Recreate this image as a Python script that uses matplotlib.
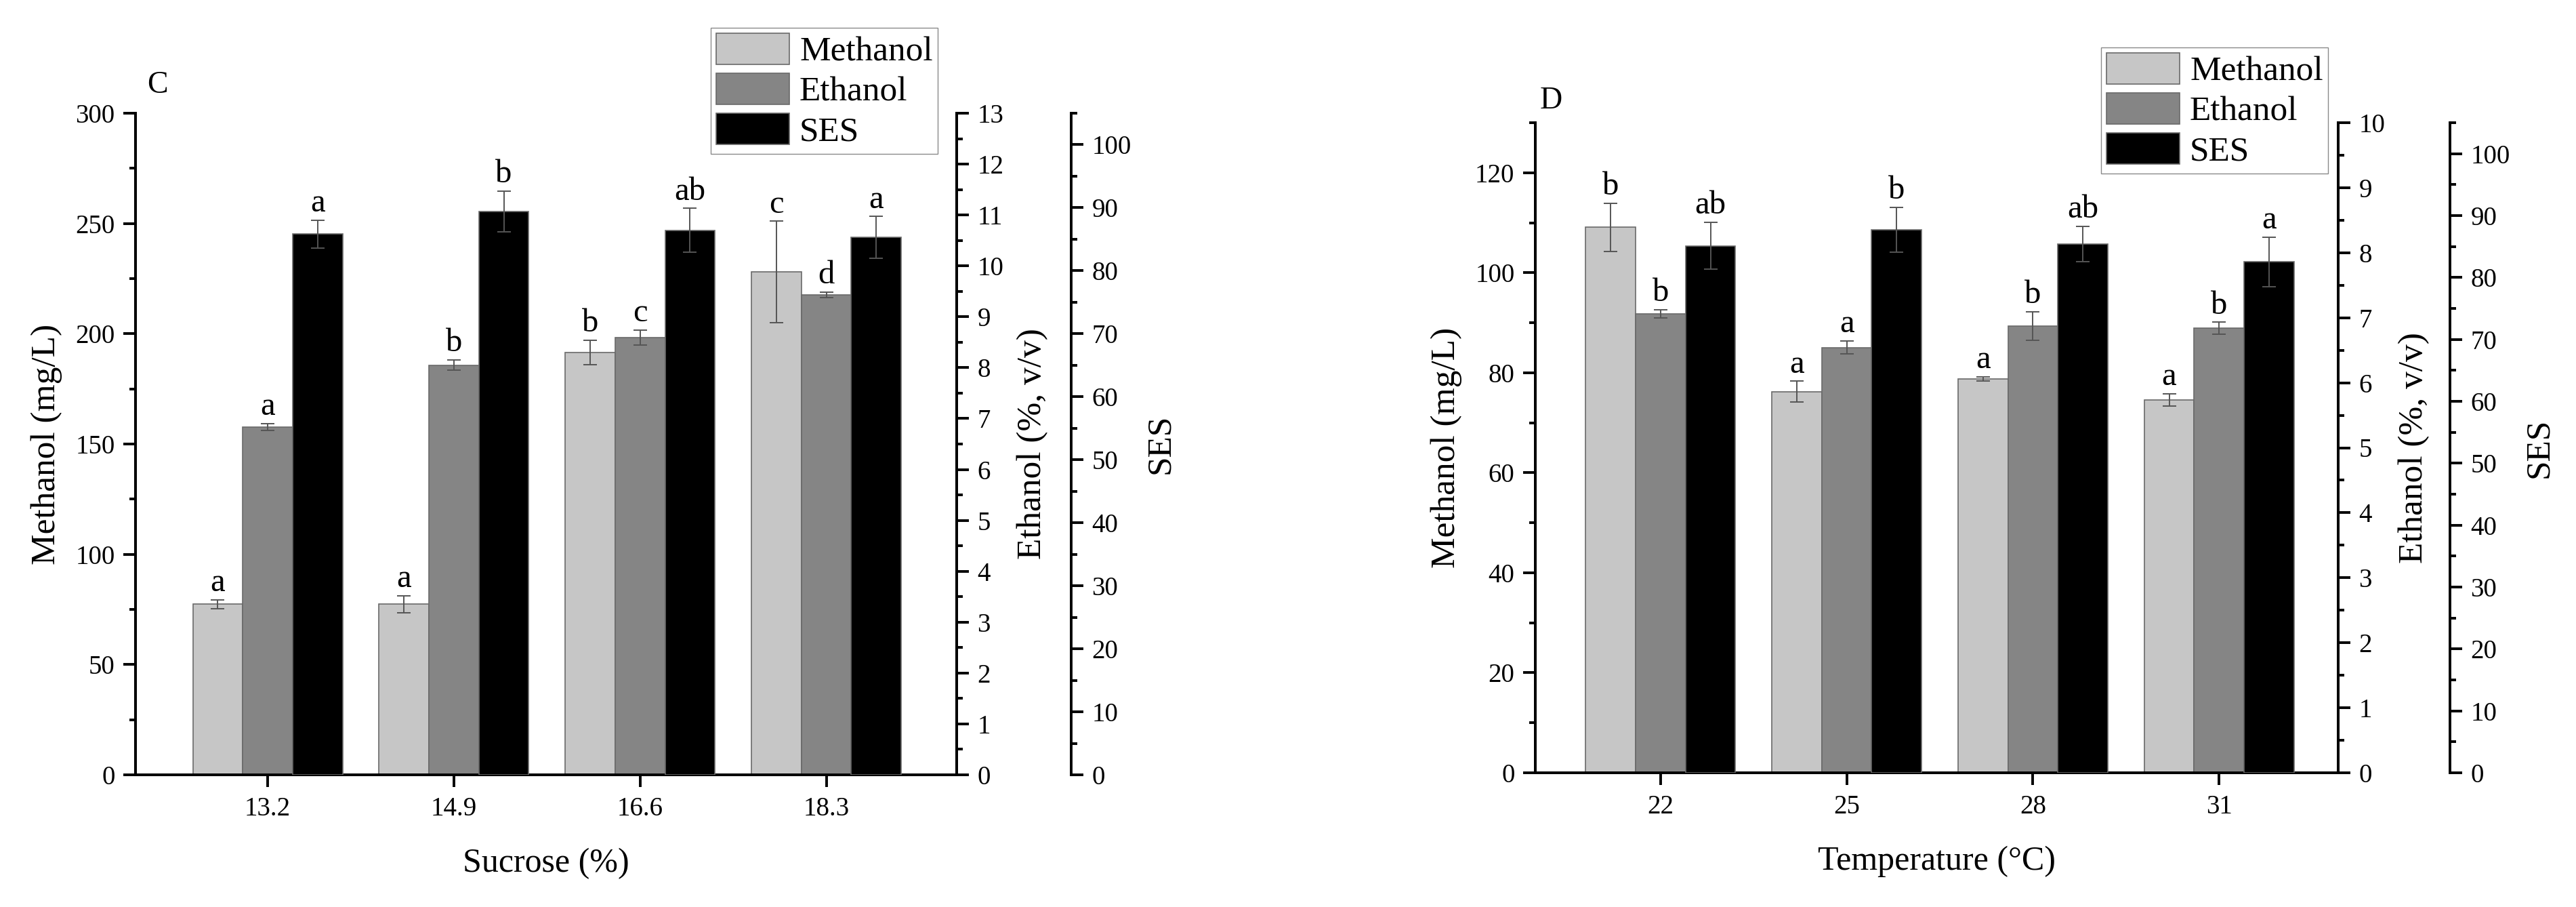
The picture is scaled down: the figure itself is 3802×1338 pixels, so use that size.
import matplotlib
matplotlib.use('Agg')
import matplotlib.pyplot as plt
import numpy as np
from matplotlib.ticker import MultipleLocator

plt.rcParams['font.family'] = ['Liberation Serif', 'DejaVu Serif']

series_names = ['Methanol', 'Ethanol', 'SES']
bar_colors = ['#c6c6c6', '#858585', '#000000']

# panel C - sucrose
sucrose = ['13.2', '14.9', '16.6', '18.3']
methanol_c = [77.4, 77.4, 191.5, 228.0]
methanol_c_err = [2.0, 3.8, 5.5, 23.0]
ethanol_c = [6.83, 8.05, 8.59, 9.43]
ethanol_c_err = [0.07, 0.10, 0.15, 0.05]
ses_c = [85.8, 89.4, 86.4, 85.3]
ses_c_err = [2.2, 3.2, 3.5, 3.3]
letters_c = [['a', 'a', 'b', 'c'], ['a', 'b', 'c', 'd'], ['a', 'b', 'ab', 'a']]

# panel D - temperature
temperature = ['22', '25', '28', '31']
methanol_d = [109.1, 76.2, 78.8, 74.6]
methanol_d_err = [4.8, 2.1, 0.4, 1.2]
ethanol_d = [7.06, 6.54, 6.87, 6.84]
ethanol_d_err = [0.06, 0.10, 0.22, 0.09]
ses_d = [85.1, 87.7, 85.4, 82.5]
ses_d_err = [3.8, 3.6, 2.9, 4.0]
letters_d = [['b', 'a', 'a', 'a'], ['b', 'a', 'b', 'b'], ['ab', 'b', 'ab', 'a']]

W, H = 3802, 1338
DPI = 100
LW = 2.8
fig = plt.figure(figsize=(W / DPI, H / DPI), dpi=DPI)


def style_axis(ax):
    ax.tick_params(axis='y', which='major', direction='out', length=13, width=LW,
                   labelsize=28, pad=9)
    ax.tick_params(axis='y', which='minor', direction='out', length=6.5, width=LW)
    ax.tick_params(axis='x', which='major', direction='out', length=13, width=LW,
                   labelsize=28, pad=10)
    for s in ax.spines.values():
        s.set_linewidth(LW)


def panel(rect, cats, meth, meth_err, eth, eth_err, ses, ses_err, letters,
          ylim, ymaj, ymin, eth_lim, xlim, xlabel, tag, tag_pos, ses_offset, leg_pos):
    ax = fig.add_axes(rect)
    ax2 = ax.twinx()
    ax3 = ax.twinx()
    x = np.arange(len(cats))
    w = 0.268
    axes = [ax, ax2, ax3]
    vals = [meth, eth, ses]
    errs = [meth_err, eth_err, ses_err]
    handles = []
    for i, (a, v, e) in enumerate(zip(axes, vals, errs)):
        pos = x + (i - 1) * w
        b = a.bar(pos, v, width=w, color=bar_colors[i], edgecolor='#6a6a6a',
                  linewidth=1.2, zorder=2)
        handles.append(b)
        a.errorbar(pos, v, yerr=e, fmt='none', ecolor='#555555', elinewidth=1.4,
                   capsize=7, capthick=1.4, zorder=3)
        for p, top, lab in zip(pos, np.array(v) + np.array(e), letters[i]):
            a.annotate(lab, (p, top), xytext=(0, 2), textcoords='offset points',
                       ha='center', va='bottom', fontsize=35)

    ax.set_xlim(*xlim)
    ax.set_ylim(*ylim)
    ax.yaxis.set_major_locator(MultipleLocator(ymaj))
    ax.yaxis.set_minor_locator(MultipleLocator(ymin))
    ax.set_xticks(x)
    ax.set_xticklabels(cats)
    ax.spines['top'].set_visible(False)
    ax.set_ylabel('Methanol (mg/L)', fontsize=37, labelpad=14)
    ax.set_xlabel(xlabel, fontsize=36, labelpad=28)
    style_axis(ax)

    ax2.set_ylim(0, eth_lim)
    ax2.yaxis.set_major_locator(MultipleLocator(1))
    ax2.yaxis.set_minor_locator(MultipleLocator(0.5))
    ax2.spines['top'].set_visible(False)
    ax2.set_ylabel('Ethanol (%, v/v)', fontsize=37, labelpad=14)
    style_axis(ax2)

    ax3.set_ylim(0, 105)
    ax3.yaxis.set_major_locator(MultipleLocator(10))
    ax3.yaxis.set_minor_locator(MultipleLocator(5))
    ax3.spines['right'].set_position(('outward', ses_offset))
    for s in ['top', 'left', 'bottom']:
        ax3.spines[s].set_visible(False)
    ax3.set_ylabel('SES', fontsize=37, labelpad=14)
    style_axis(ax3)

    fig.text(tag_pos[0], tag_pos[1], tag, fontsize=33, ha='left', va='baseline')

    fig.legend(handles, series_names, loc='upper left', bbox_to_anchor=leg_pos,
               bbox_transform=fig.transFigure, fontsize=37, frameon=True,
               fancybox=False, edgecolor='#8a8a8a', framealpha=1,
               handlelength=2.1, handleheight=1.0, labelspacing=0.15,
               borderpad=0.15, handletextpad=0.3, borderaxespad=0)


panel([200 / W, 1 - 1143 / H, 1212 / W, (1143 - 167) / H], sucrose,
      methanol_c, methanol_c_err, ethanol_c, ethanol_c_err, ses_c, ses_c_err,
      letters_c, (0, 300), 50, 25, 13, (-0.71, 3.70), 'Sucrose (%)', 'C',
      (217 / W, 1 - 137 / H), 169 * 72 / DPI, (1049 / W, 1 - 41 / H))

panel([2266 / W, 1 - 1140 / H, 1185 / W, (1140 - 181) / H], temperature,
      methanol_d, methanol_d_err, ethanol_d, ethanol_d_err, ses_d, ses_d_err,
      letters_d, (0, 130), 20, 10, 10, (-0.673, 3.64), 'Temperature (°C)', 'D',
      (2273 / W, 1 - 160 / H), 165 * 72 / DPI, (3101 / W, 1 - 70 / H))

fig.savefig('out.png', dpi=DPI)
